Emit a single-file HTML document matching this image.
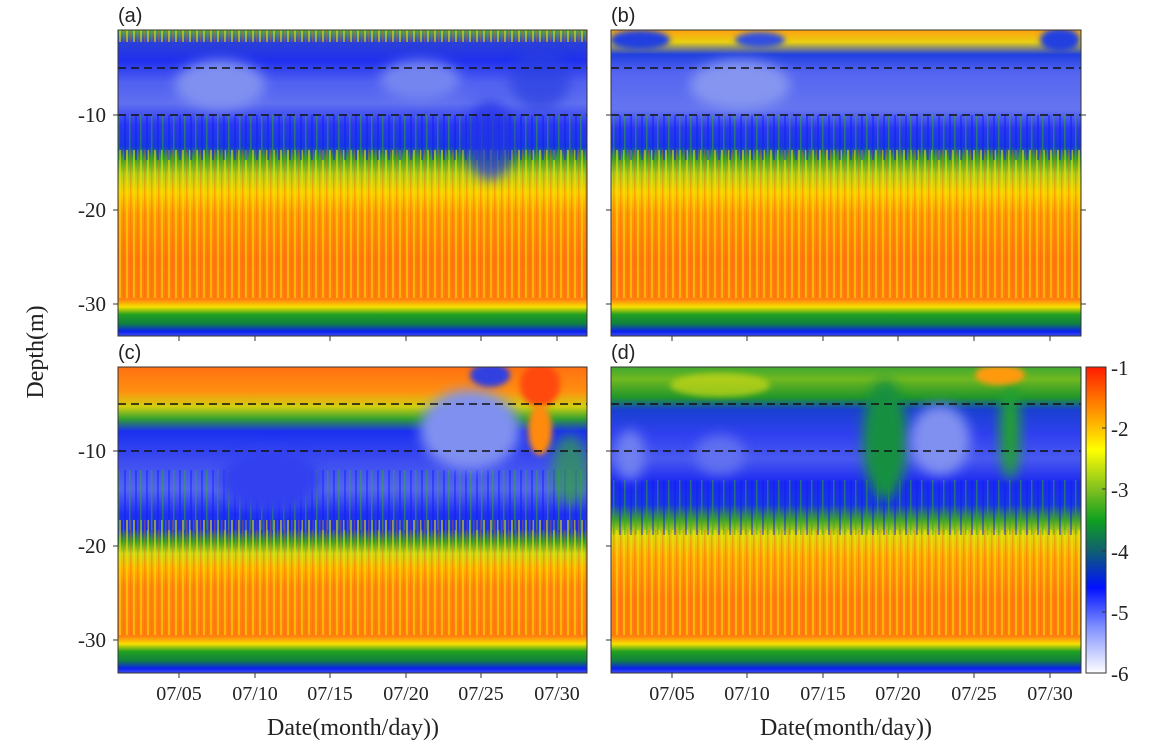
<!DOCTYPE html>
<html><head><meta charset="utf-8"><style>
html,body{margin:0;padding:0;background:#fff;}
svg{display:block;}
text{font-family:"Liberation Serif",serif;fill:#222;}
</style></head><body>
<svg width="1174" height="747" viewBox="0 0 1174 747" xmlns="http://www.w3.org/2000/svg">
<defs>
<filter id="bl" x="-50%" y="-50%" width="200%" height="200%"><feGaussianBlur stdDeviation="6"/></filter>
<filter id="bl2" x="-50%" y="-50%" width="200%" height="200%"><feGaussianBlur stdDeviation="3"/></filter>
<pattern id="st" width="7" height="10" patternUnits="userSpaceOnUse">
<rect x="0" width="2" height="10" fill="#f6e000" opacity="0.55"/><rect x="4" width="1.5" height="10" fill="#ff5a00" opacity="0.35"/>
</pattern>
<pattern id="st2" width="11" height="10" patternUnits="userSpaceOnUse">
<rect x="3" width="2" height="10" fill="#0a1cff" opacity="0.45"/><rect x="8" width="1.5" height="10" fill="#30b020" opacity="0.5"/>
</pattern>
<linearGradient id="ga" x1="0" y1="0" x2="0" y2="1">
<stop offset="0" stop-color="#50b040"/><stop offset="0.04" stop-color="#2a40d8"/>
<stop offset="0.1" stop-color="#2030ee"/><stop offset="0.17" stop-color="#5060f0"/>
<stop offset="0.24" stop-color="#6070f0"/><stop offset="0.31" stop-color="#2a38f0"/>
<stop offset="0.38" stop-color="#1838e0"/><stop offset="0.42" stop-color="#30a030"/>
<stop offset="0.47" stop-color="#a8d020"/><stop offset="0.53" stop-color="#f8d000"/>
<stop offset="0.6" stop-color="#ff9a08"/><stop offset="0.75" stop-color="#ff7a10"/>
<stop offset="0.88" stop-color="#ff8010"/><stop offset="0.905" stop-color="#f8e000"/>
<stop offset="0.93" stop-color="#20a020"/><stop offset="0.96" stop-color="#108040"/>
<stop offset="0.985" stop-color="#0a20f0"/><stop offset="1" stop-color="#4050f0"/>
</linearGradient>
<linearGradient id="gb" x1="0" y1="0" x2="0" y2="1">
<stop offset="0" stop-color="#ffa010"/><stop offset="0.04" stop-color="#e8d010"/>
<stop offset="0.08" stop-color="#2040e0"/><stop offset="0.14" stop-color="#5565f0"/>
<stop offset="0.26" stop-color="#6575f0"/><stop offset="0.32" stop-color="#2a38f0"/>
<stop offset="0.38" stop-color="#1838e0"/><stop offset="0.42" stop-color="#30a030"/>
<stop offset="0.47" stop-color="#a8d020"/><stop offset="0.53" stop-color="#f8d000"/>
<stop offset="0.6" stop-color="#ff9a08"/><stop offset="0.75" stop-color="#ff7a10"/>
<stop offset="0.88" stop-color="#ff8010"/><stop offset="0.905" stop-color="#f8e000"/>
<stop offset="0.93" stop-color="#20a020"/><stop offset="0.96" stop-color="#108040"/>
<stop offset="0.985" stop-color="#0a20f0"/><stop offset="1" stop-color="#4050f0"/>
</linearGradient>
<linearGradient id="gc" x1="0" y1="0" x2="0" y2="1">
<stop offset="0" stop-color="#ff7010"/><stop offset="0.08" stop-color="#ff9010"/>
<stop offset="0.13" stop-color="#d0d010"/><stop offset="0.17" stop-color="#30a030"/>
<stop offset="0.21" stop-color="#1a30f0"/><stop offset="0.3" stop-color="#3a4af0"/>
<stop offset="0.4" stop-color="#5565f0"/><stop offset="0.48" stop-color="#2030f0"/>
<stop offset="0.53" stop-color="#1838e0"/><stop offset="0.57" stop-color="#30a030"/>
<stop offset="0.61" stop-color="#c8d818"/><stop offset="0.66" stop-color="#ffb000"/>
<stop offset="0.72" stop-color="#ff8a10"/><stop offset="0.88" stop-color="#ff8010"/>
<stop offset="0.905" stop-color="#f8e000"/>
<stop offset="0.93" stop-color="#20a020"/><stop offset="0.96" stop-color="#108040"/>
<stop offset="0.985" stop-color="#0a20f0"/><stop offset="1" stop-color="#4050f0"/>
</linearGradient>
<linearGradient id="gd" x1="0" y1="0" x2="0" y2="1">
<stop offset="0" stop-color="#40a830"/><stop offset="0.04" stop-color="#70b820"/>
<stop offset="0.1" stop-color="#20962a"/><stop offset="0.14" stop-color="#1840d0"/>
<stop offset="0.22" stop-color="#3040f0"/><stop offset="0.3" stop-color="#4858f0"/>
<stop offset="0.38" stop-color="#1a28f0"/><stop offset="0.45" stop-color="#1838e0"/>
<stop offset="0.5" stop-color="#40a030"/><stop offset="0.55" stop-color="#d8d810"/>
<stop offset="0.62" stop-color="#ffa808"/><stop offset="0.75" stop-color="#ff8010"/>
<stop offset="0.88" stop-color="#ff8010"/><stop offset="0.905" stop-color="#f8e000"/>
<stop offset="0.93" stop-color="#20a020"/><stop offset="0.96" stop-color="#108040"/>
<stop offset="0.985" stop-color="#0a20f0"/><stop offset="1" stop-color="#4050f0"/>
</linearGradient>
<linearGradient id="cb" x1="0" y1="0" x2="0" y2="1">
<stop offset="0" stop-color="#ff1a00"/><stop offset="0.1" stop-color="#ff7000"/>
<stop offset="0.2" stop-color="#ffc000"/><stop offset="0.27" stop-color="#ffff00"/>
<stop offset="0.4" stop-color="#80c020"/><stop offset="0.5" stop-color="#10a020"/>
<stop offset="0.6" stop-color="#106070"/><stop offset="0.72" stop-color="#0010ff"/>
<stop offset="0.85" stop-color="#8090ff"/><stop offset="1" stop-color="#ffffff"/>
</linearGradient>
<clipPath id="ca"><rect x="118" y="30" width="469" height="306"/></clipPath>
<clipPath id="cbp"><rect x="611" y="30" width="470" height="306"/></clipPath>
<clipPath id="cc"><rect x="118" y="367" width="469" height="306"/></clipPath>
<clipPath id="cd"><rect x="611" y="367" width="470" height="306"/></clipPath>
</defs>

<g clip-path="url(#ca)">
<rect x="118" y="30" width="469" height="306" fill="url(#ga)"/>
<rect x="118" y="150" width="469" height="148" fill="url(#st)"/>
<rect x="118" y="115" width="469" height="45" fill="url(#st2)"/>
<rect x="118" y="30" width="469" height="12" fill="url(#st)"/>
<ellipse cx="220" cy="85" rx="45" ry="25" fill="#8090f0" filter="url(#bl)"/>
<ellipse cx="420" cy="80" rx="40" ry="20" fill="#7585f0" filter="url(#bl)"/>
<ellipse cx="490" cy="140" rx="25" ry="40" fill="#2030e8" filter="url(#bl)" opacity="0.7"/>
<ellipse cx="540" cy="80" rx="30" ry="30" fill="#2a40e0" filter="url(#bl)" opacity="0.7"/>
</g>
<g clip-path="url(#cbp)">
<rect x="611" y="30" width="470" height="306" fill="url(#gb)"/>
<rect x="611" y="150" width="470" height="148" fill="url(#st)"/>
<rect x="611" y="115" width="470" height="45" fill="url(#st2)"/>
<ellipse cx="740" cy="85" rx="50" ry="25" fill="#8595f0" filter="url(#bl)"/>
<ellipse cx="640" cy="40" rx="30" ry="10" fill="#2040e0" filter="url(#bl2)"/>
<ellipse cx="760" cy="40" rx="25" ry="8" fill="#3050e0" filter="url(#bl2)"/>
<ellipse cx="1060" cy="40" rx="20" ry="12" fill="#2040e0" filter="url(#bl2)"/>
</g>
<g clip-path="url(#cc)">
<rect x="118" y="367" width="469" height="306" fill="url(#gc)"/>
<rect x="118" y="520" width="469" height="115" fill="url(#st)"/>
<rect x="118" y="470" width="469" height="60" fill="url(#st2)"/>
<ellipse cx="270" cy="480" rx="50" ry="30" fill="#3040f0" filter="url(#bl)"/>
<ellipse cx="470" cy="430" rx="50" ry="40" fill="#8090f0" filter="url(#bl)"/>
<ellipse cx="490" cy="375" rx="20" ry="12" fill="#3040e0" filter="url(#bl2)"/>
<ellipse cx="540" cy="385" rx="20" ry="22" fill="#ff4a10" filter="url(#bl2)"/>
<ellipse cx="540" cy="430" rx="12" ry="25" fill="#ff8a10" filter="url(#bl2)"/>
<ellipse cx="570" cy="470" rx="18" ry="35" fill="#30a040" filter="url(#bl)" opacity="0.7"/>
</g>
<g clip-path="url(#cd)">
<rect x="611" y="367" width="470" height="306" fill="url(#gd)"/>
<rect x="611" y="530" width="470" height="105" fill="url(#st)"/>
<rect x="611" y="480" width="470" height="55" fill="url(#st2)"/>
<ellipse cx="885" cy="440" rx="22" ry="60" fill="#189040" filter="url(#bl)"/>
<ellipse cx="940" cy="440" rx="30" ry="35" fill="#8090f0" filter="url(#bl)"/>
<ellipse cx="1010" cy="430" rx="10" ry="50" fill="#20a030" filter="url(#bl)"/>
<ellipse cx="630" cy="455" rx="15" ry="25" fill="#7080f0" filter="url(#bl)"/>
<ellipse cx="720" cy="455" rx="25" ry="20" fill="#6070f0" filter="url(#bl)"/>
<ellipse cx="1000" cy="375" rx="25" ry="10" fill="#ff9a10" filter="url(#bl2)"/>
<ellipse cx="720" cy="385" rx="50" ry="12" fill="#c8d818" filter="url(#bl2)" opacity="0.7"/>
</g>

<g stroke="#111" stroke-width="1.6" stroke-dasharray="8,5">
<line x1="118" y1="68" x2="587" y2="68"/><line x1="118" y1="115" x2="587" y2="115"/>
<line x1="611" y1="68" x2="1081" y2="68"/><line x1="611" y1="115" x2="1081" y2="115"/>
<line x1="118" y1="404" x2="587" y2="404"/><line x1="118" y1="451" x2="587" y2="451"/>
<line x1="611" y1="404" x2="1081" y2="404"/><line x1="611" y1="451" x2="1081" y2="451"/>
</g>

<g fill="none" stroke="#333" stroke-width="1">
<rect x="118" y="30" width="469" height="306"/><rect x="611" y="30" width="470" height="306"/>
<rect x="118" y="367" width="469" height="306"/><rect x="611" y="367" width="470" height="306"/>
<rect x="1086" y="367" width="20" height="306" fill="url(#cb)"/>
</g>
<g stroke="#333" stroke-width="1">
<line x1="118" y1="115" x2="113" y2="115"/><line x1="118" y1="210" x2="113" y2="210"/><line x1="118" y1="304" x2="113" y2="304"/>
<line x1="118" y1="451" x2="113" y2="451"/><line x1="118" y1="546" x2="113" y2="546"/><line x1="118" y1="640" x2="113" y2="640"/>
<line x1="1081" y1="304" x2="1086" y2="304"/><line x1="1081" y1="210" x2="1086" y2="210"/><line x1="1081" y1="115" x2="1086" y2="115"/>
<line x1="611" y1="304" x2="606" y2="304"/><line x1="611" y1="210" x2="606" y2="210"/><line x1="611" y1="115" x2="606" y2="115"/>
<line x1="611" y1="451" x2="606" y2="451"/><line x1="611" y1="546" x2="606" y2="546"/><line x1="611" y1="640" x2="606" y2="640"/>
<line x1="1106" y1="428" x2="1102" y2="428"/><line x1="1106" y1="489" x2="1102" y2="489"/><line x1="1106" y1="551" x2="1102" y2="551"/><line x1="1106" y1="612" x2="1102" y2="612"/>
</g>
<g stroke="#333" stroke-width="1">
<line x1="179" y1="336" x2="179" y2="341"/><line x1="255" y1="336" x2="255" y2="341"/><line x1="330" y1="336" x2="330" y2="341"/><line x1="406" y1="336" x2="406" y2="341"/><line x1="481" y1="336" x2="481" y2="341"/><line x1="557" y1="336" x2="557" y2="341"/>
<line x1="672" y1="336" x2="672" y2="341"/><line x1="747" y1="336" x2="747" y2="341"/><line x1="823" y1="336" x2="823" y2="341"/><line x1="898" y1="336" x2="898" y2="341"/><line x1="974" y1="336" x2="974" y2="341"/><line x1="1050" y1="336" x2="1050" y2="341"/>
<line x1="179" y1="673" x2="179" y2="678"/><line x1="255" y1="673" x2="255" y2="678"/><line x1="330" y1="673" x2="330" y2="678"/><line x1="406" y1="673" x2="406" y2="678"/><line x1="481" y1="673" x2="481" y2="678"/><line x1="557" y1="673" x2="557" y2="678"/>
<line x1="672" y1="673" x2="672" y2="678"/><line x1="747" y1="673" x2="747" y2="678"/><line x1="823" y1="673" x2="823" y2="678"/><line x1="898" y1="673" x2="898" y2="678"/><line x1="974" y1="673" x2="974" y2="678"/><line x1="1050" y1="673" x2="1050" y2="678"/>
</g>

<g font-size="21" text-anchor="end">
<text x="106" y="122">-10</text><text x="106" y="217">-20</text><text x="106" y="311">-30</text>
<text x="106" y="458">-10</text><text x="106" y="553">-20</text><text x="106" y="647">-30</text>
</g>
<g font-size="21" text-anchor="start">
<text x="1111" y="375">-1</text><text x="1111" y="436">-2</text><text x="1111" y="497">-3</text><text x="1111" y="559">-4</text><text x="1111" y="620">-5</text><text x="1111" y="681">-6</text>
</g>
<g font-size="20" text-anchor="middle">
<text x="179" y="700">07/05</text><text x="255" y="700">07/10</text><text x="330" y="700">07/15</text><text x="406" y="700">07/20</text><text x="481" y="700">07/25</text><text x="557" y="700">07/30</text>
<text x="672" y="700">07/05</text><text x="747" y="700">07/10</text><text x="823" y="700">07/15</text><text x="898" y="700">07/20</text><text x="974" y="700">07/25</text><text x="1050" y="700">07/30</text>
</g>
<text x="353" y="735" font-size="24" text-anchor="middle">Date(month/day))</text>
<text x="846" y="735" font-size="24" text-anchor="middle">Date(month/day))</text>
<text x="0" y="0" font-size="24" text-anchor="middle" transform="translate(43,352) rotate(-90)">Depth(m)</text>
<g font-size="20">
<text x="118" y="22" style="font-family:'Liberation Sans',sans-serif">(a)</text>
<text x="611" y="22" style="font-family:'Liberation Sans',sans-serif">(b)</text>
<text x="118" y="359" style="font-family:'Liberation Sans',sans-serif">(c)</text>
<text x="611" y="359" style="font-family:'Liberation Sans',sans-serif">(d)</text>
</g>
</svg>
</body></html>
